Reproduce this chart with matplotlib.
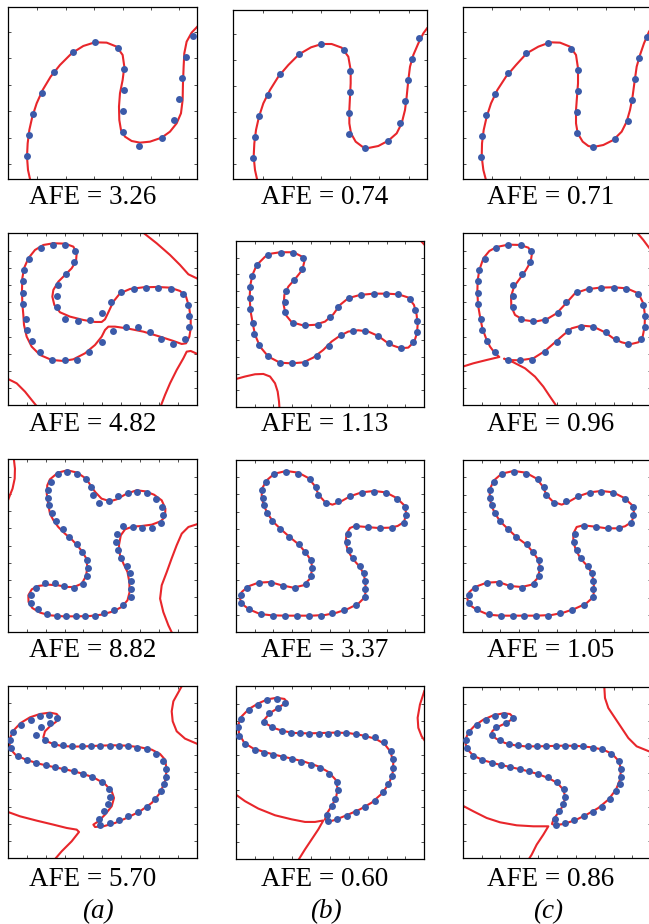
import numpy as np
import matplotlib.pyplot as plt

plt.rcParams['font.family'] = ['Liberation Serif', 'DejaVu Serif']

# ---- data points (one set per row, shared by the three fits) ----
r1_x = [58, 62, 75, 101, 139, 194, 261, 329, 349, 349, 346, 346, 394, 461, 499, 512, 522, 533, 556]
r1_y = [69, 132, 195, 258, 322, 382, 411, 394, 331, 268, 204, 141, 100, 122, 176, 240, 303, 366, 429]

r2_x = [98, 135, 172, 202, 199, 175, 150, 148, 148, 172, 209, 246, 283, 308, 340, 377, 414, 451, 488, 524,
        539, 544, 544, 532, 495, 459, 427, 389, 353, 315, 281, 244, 207, 170, 133, 96, 71, 56, 53, 44,
        44, 44, 48, 64]
r2_y = [471, 480, 480, 462, 429, 395, 361, 327, 294, 260, 254, 255, 278, 309, 339, 348, 352, 352, 350, 334,
        300, 267, 234, 200, 184, 198, 221, 235, 235, 222, 190, 159, 137, 136, 137, 159, 193, 227, 260, 304,
        338, 372, 406, 440]

r3_x = [116, 152, 188, 223, 241, 248, 272, 308, 343, 379, 414, 450, 485, 508, 510, 504, 468, 433, 397, 361,
        336, 333, 340, 353, 374, 386, 389, 389, 389, 361, 326, 290, 255, 219, 183, 148, 113, 77, 41, 16,
        16, 34, 70, 106, 141, 177, 211, 226, 230, 226, 208, 190, 159, 134, 110, 95, 85, 81, 80, 91]
r3_y = [474, 481, 475, 458, 435, 410, 388, 392, 407, 418, 421, 417, 399, 376, 352, 328, 312, 313, 316, 317,
        295, 270, 246, 222, 199, 176, 152, 129, 105, 82, 66, 56, 49, 49, 49, 49, 49, 53, 68, 87,
        110, 131, 146, 148, 137, 133, 145, 168, 193, 215, 239, 263, 286, 310, 333, 356, 380, 403, 427, 451]

r4_x = [148, 123, 95, 68, 40, 16, 7, 10, 29, 57, 85, 113, 141, 169, 197, 225, 253, 281, 303, 306,
        299, 288, 274, 277, 305, 333, 361, 389, 417, 441, 458, 469, 473, 473, 466, 444, 417, 388, 360, 332,
        305, 277, 249, 221, 193, 165, 138, 110, 85, 99, 127]
r4_y = [421, 431, 427, 415, 401, 378, 355, 332, 308, 294, 285, 279, 273, 268, 262, 253, 244, 229, 208, 185,
        162, 141, 117, 101, 106, 115, 127, 138, 155, 179, 201, 223, 245, 269, 291, 314, 327, 332, 336, 338,
        338, 337, 336, 336, 338, 339, 344, 354, 370, 393, 407]

# ---- zero sets of the fitted polynomials, one list of branches per panel ----
r1a = [[(66, 0), (60, 27), (57, 67), (59, 107), (64, 147), (73, 187), (86, 227), (104, 267), (128, 307),
        (156, 342), (191, 377), (226, 399), (261, 410), (296, 409), (326, 397), (344, 372), (349, 337),
        (344, 297), (336, 257), (333, 217), (334, 177), (339, 147), (351, 127), (371, 114), (396, 109),
        (426, 112), (461, 124), (486, 142), (506, 167), (519, 197), (524, 237), (525, 287), (527, 337),
        (529, 377), (536, 412), (551, 439), (568, 457)]]
r1b = [[(69, 7), (63, 34), (59, 74), (61, 114), (66, 154), (75, 194), (88, 234), (108, 274), (133, 314),
        (163, 349), (195, 381), (231, 402), (263, 412), (293, 412), (323, 401), (343, 374), (350, 334),
        (350, 294), (348, 254), (346, 214), (346, 174), (351, 144), (365, 119), (385, 104), (403, 100),
        (433, 106), (463, 122), (488, 144), (503, 174), (513, 214), (518, 254), (523, 304), (528, 344),
        (538, 379), (553, 414), (568, 444), (579, 459)]]
r1c = [[(73, 3), (66, 30), (61, 70), (62, 110), (67, 150), (76, 190), (89, 230), (108, 270), (134, 310),
        (164, 345), (196, 380), (231, 400), (266, 413), (296, 412), (326, 400), (344, 375), (350, 335),
        (350, 290), (347, 250), (344, 210), (344, 170), (349, 140), (364, 115), (381, 102), (396, 99),
        (426, 105), (456, 120), (481, 145), (496, 175), (506, 210), (513, 245), (519, 290), (526, 340),
        (536, 375), (548, 410), (563, 445), (580, 470)]]

r2a = [[(136, 486), (171, 485), (196, 476), (206, 456), (204, 433), (191, 411), (171, 391), (151, 371),
        (136, 346), (133, 326), (139, 301), (156, 279), (186, 266), (226, 256), (261, 250), (281, 250),
        (291, 258), (301, 279), (316, 311), (336, 336), (366, 349), (406, 354), (446, 355), (486, 353),
        (516, 343), (534, 326), (543, 296), (548, 261), (548, 231), (544, 206), (534, 186), (521, 184),
        (496, 193), (456, 206), (406, 221), (356, 231), (321, 236), (301, 236), (291, 226), (281, 206),
        (261, 181), (231, 156), (196, 138), (166, 133), (131, 136), (96, 151), (71, 176), (56, 206),
        (48, 241), (46, 271), (43, 306), (42, 346), (43, 381), (48, 411), (61, 441), (81, 466),
        (106, 481), (136, 486)],
       [(408, 516), (446, 486), (486, 451), (516, 421), (541, 393), (566, 381)],
       [(459, 0), (471, 31), (486, 66), (506, 106), (526, 141), (536, 161), (548, 163), (566, 155)],
       [(0, 79), (26, 66), (51, 41), (71, 16), (84, 0)]]
r2b = [[(134, 481), (173, 481), (200, 467), (206, 452), (200, 426), (180, 400), (158, 374), (146, 348),
        (144, 317), (150, 286), (168, 263), (203, 253), (238, 255), (268, 265), (293, 288), (313, 317),
        (338, 338), (373, 348), (413, 352), (453, 352), (488, 350), (518, 340), (535, 317), (543, 286),
        (546, 255), (544, 229), (536, 203), (518, 184), (496, 182), (473, 190), (453, 201), (428, 220),
        (398, 234), (368, 238), (338, 234), (313, 221), (288, 203), (263, 177), (233, 153), (203, 138),
        (168, 135), (133, 137), (98, 156), (73, 187), (58, 224), (51, 260), (44, 301), (42, 343),
        (44, 379), (50, 410), (63, 441), (88, 467), (108, 477), (134, 481)],
       [(0, 86), (28, 94), (58, 101), (83, 102), (103, 94), (118, 73), (126, 47), (130, 16), (131, 0)],
       [(556, 516), (566, 505)]]
r2c = [[(-2, 116), (30, 126), (70, 136), (108, 145), (95, 156), (80, 176), (68, 201), (57, 231), (50, 266),
        (44, 301), (42, 341), (43, 376), (48, 406), (60, 441), (78, 463), (100, 475), (135, 482),
        (170, 481), (195, 473), (206, 456), (202, 431), (188, 406), (170, 381), (152, 356), (143, 326),
        (144, 296), (155, 271), (180, 256), (215, 251), (250, 258), (280, 276), (308, 306), (335, 336),
        (370, 348), (410, 353), (450, 354), (490, 351), (525, 336), (540, 306), (545, 271), (544, 236),
        (538, 206), (525, 189), (500, 183), (475, 189), (450, 201), (425, 219), (390, 236), (355, 239),
        (325, 231), (300, 211), (275, 189), (245, 163), (210, 141), (170, 135), (130, 136), (122, 140),
        (150, 129), (185, 111), (215, 86), (240, 56), (260, 26), (278, 0)],
       [(523, 516), (540, 496), (557, 473), (575, 451)]]

r3a = [[(117, 478), (152, 485), (189, 478), (222, 460), (239, 440), (256, 420), (280, 400), (312, 392),
        (337, 398), (374, 415), (411, 425), (443, 422), (476, 412), (505, 395), (519, 370), (517, 345),
        (501, 332), (468, 322), (430, 318), (396, 316), (368, 308), (352, 290), (345, 260), (349, 230),
        (362, 205), (377, 180), (384, 150), (385, 120), (377, 95), (355, 75), (324, 62), (280, 52),
        (237, 48), (187, 47), (137, 47), (87, 50), (50, 58), (21, 72), (7, 90), (6, 110), (19, 128),
        (43, 138), (81, 142), (118, 140), (150, 135), (177, 135), (206, 145), (222, 168), (227, 195),
        (222, 222), (206, 243), (189, 260), (168, 278), (143, 295), (118, 315), (100, 335), (87, 355),
        (81, 380), (75, 415), (77, 440), (87, 458), (117, 478)],
       [(-48, 518), (-44, 490), (-45, 460), (-53, 430), (-63, 410), (-70, 395)],
       [(636, 323), (605, 315), (580, 295), (561, 260), (542, 220), (524, 180), (505, 140), (499, 100),
        (511, 60), (530, 20), (542, 0)]]
r3b = [[(152, 483), (188, 478), (218, 462), (236, 440), (250, 410), (268, 390), (290, 382), (313, 390),
        (343, 407), (378, 419), (415, 423), (450, 419), (483, 402), (506, 380), (512, 355), (505, 330),
        (486, 318), (463, 313), (428, 312), (393, 315), (358, 318), (343, 312), (333, 295), (330, 270),
        (336, 245), (351, 220), (371, 197), (384, 175), (389, 150), (390, 128), (388, 105), (368, 85),
        (338, 70), (303, 58), (268, 51), (228, 49), (188, 49), (148, 49), (108, 50), (73, 54), (40, 68),
        (18, 85), (13, 100), (18, 120), (38, 137), (68, 148), (103, 150), (138, 140), (173, 133),
        (203, 140), (223, 160), (230, 190), (226, 215), (210, 238), (190, 262), (163, 284), (136, 308),
        (113, 330), (96, 355), (83, 382), (78, 410), (80, 432), (93, 455), (116, 475), (152, 483)]]
r3c = [[(151, 483), (187, 478), (220, 460), (238, 437), (250, 410), (270, 390), (295, 382), (315, 390),
        (345, 407), (380, 419), (414, 423), (449, 419), (483, 402), (507, 380), (513, 355), (505, 330),
        (485, 317), (460, 311), (430, 311), (395, 316), (360, 320), (340, 315), (330, 295), (330, 270),
        (338, 245), (352, 220), (373, 197), (386, 175), (391, 150), (392, 128), (390, 105), (368, 85),
        (335, 70), (300, 58), (265, 51), (220, 49), (180, 49), (145, 49), (110, 49), (75, 52), (40, 67),
        (16, 83), (12, 100), (18, 120), (35, 135), (70, 148), (105, 150), (140, 138), (175, 135),
        (205, 142), (223, 162), (230, 190), (226, 215), (210, 238), (190, 262), (160, 284), (135, 308),
        (112, 330), (95, 355), (83, 382), (79, 410), (81, 432), (92, 455), (115, 475), (151, 483)]]

r4a = [[(154, 423), (146, 433), (126, 437), (96, 433), (66, 423), (38, 406), (16, 383), (4, 356), (6, 329),
        (24, 309), (56, 295), (96, 283), (136, 274), (176, 266), (216, 256), (256, 243), (291, 223),
        (311, 201), (318, 181), (311, 156), (291, 131), (271, 111), (256, 101), (261, 94), (286, 96),
        (321, 106), (356, 121), (396, 141), (431, 166), (456, 196), (471, 231), (476, 266), (471, 296),
        (456, 313), (431, 326), (396, 333), (356, 338), (316, 339), (276, 338), (236, 336), (196, 335),
        (161, 337), (136, 343), (116, 351), (106, 363), (111, 381), (126, 396), (146, 411), (154, 423)],
       [(521, 516), (496, 471), (491, 441), (494, 411), (506, 381), (531, 359), (566, 344)],
       [(0, 139), (36, 126), (86, 113), (136, 101), (176, 91), (206, 86), (213, 79), (191, 51), (161, 21),
        (143, 0)]]
r4b = [[(154, 423), (146, 431), (123, 434), (96, 430), (68, 419), (40, 404), (18, 384), (8, 362), (10, 337),
        (26, 312), (53, 297), (88, 287), (128, 278), (168, 270), (208, 261), (248, 249), (278, 234),
        (300, 213), (306, 188), (301, 164), (288, 142), (273, 121), (268, 106), (278, 99), (303, 106),
        (338, 119), (373, 133), (408, 151), (438, 175), (460, 202), (471, 231), (473, 258), (465, 288),
        (446, 310), (418, 324), (378, 333), (338, 339), (298, 340), (258, 339), (218, 338), (178, 339),
        (143, 344), (113, 353), (88, 366), (86, 375), (103, 393), (128, 407), (154, 423)],
       [(566, 452), (553, 416), (546, 380), (548, 353), (558, 330), (566, 320)],
       [(0, 173), (28, 155), (68, 135), (118, 117), (168, 106), (208, 99), (238, 99), (263, 103), (248, 79),
        (228, 52), (208, 25), (190, -1)]]
r4c = [[(152, 421), (140, 433), (120, 435), (90, 429), (60, 416), (35, 399), (15, 378), (5, 353), (10, 329),
        (30, 308), (60, 294), (100, 283), (140, 274), (180, 265), (220, 254), (255, 241), (282, 226),
        (300, 206), (306, 183), (298, 156), (282, 133), (270, 116), (266, 103), (275, 99), (300, 103),
        (335, 114), (370, 131), (405, 151), (435, 176), (458, 206), (470, 236), (473, 266), (467, 291),
        (447, 313), (420, 326), (385, 333), (345, 337), (305, 338), (265, 337), (225, 336), (185, 336),
        (155, 339), (125, 346), (100, 358), (82, 371), (88, 383), (105, 395), (130, 407), (152, 421)],
       [(423, 514), (425, 481), (435, 451), (455, 421), (475, 391), (495, 361), (520, 336), (557, 321),
        (575, 316)],
       [(-2, 158), (30, 141), (70, 121), (110, 108), (160, 99), (210, 96), (255, 96), (240, 71), (220, 41),
        (205, 11), (198, 0)]]

afe = [[3.26, 0.74, 0.71],
       [4.82, 1.13, 0.96],
       [8.82, 3.37, 1.05],
       [5.70, 0.60, 0.86]]
col_labels = ['(a)', '(b)', '(c)']

dots = [(r1_x, r1_y), (r2_x, r2_y), (r3_x, r3_y), (r4_x, r4_y)]
curves = [[r1a, r1b, r1c], [r2a, r2b, r2c], [r3a, r3b, r3c], [r4a, r4b, r4c]]

# axis ranges of each panel
lims = [[((0, 568), (0, 515)), ((-3, 579), (7, 514)), ((4, 572), (3, 518))],
        [((0, 566), (0, 516)), ((0, 566), (0, 516)), ((-2, 564), (0, 516))],
        [((-70, 636), (0, 518)), ((0, 566), (0, 516)), ((-2, 564), (0, 515))],
        [((0, 566), (0, 516)), ((0, 566), (-1, 465)), ((-2, 564), (0, 514))]]

# ---- layout (pixels: left, top, right, bottom) ----
W, H = 649, 924
rects = [[(8, 7.3, 197.3, 179), (233, 10, 427, 179), (462.7, 7.3, 652, 179)],
         [(8, 233.3, 196.7, 405.3), (235.7, 241, 424.3, 406.7), (462.7, 233.3, 651.3, 405.3)],
         [(8, 459.3, 196.7, 632), (235.7, 460, 424.3, 632), (462.7, 460.3, 651.3, 632)],
         [(8, 686.3, 196.7, 858.3), (235.7, 686.3, 424.3, 859), (462.7, 687, 651.3, 858.3)]]
label_x = [93, 325, 551]
label_base = [204, 431, 657, 886]

RED = '#e8262b'
BLUE = '#3b5aa9'

fig = plt.figure(figsize=(W / 100, H / 100), dpi=100)

for i in range(4):
    for j in range(3):
        l, t, r, b = rects[i][j]
        ax = fig.add_axes([l / W, 1 - b / H, (r - l) / W, (b - t) / H])
        (x0, x1), (y0, y1) = lims[i][j]
        for branch in curves[i][j]:
            pts = np.array(branch, dtype=float)
            ax.plot(pts[:, 0], pts[:, 1], color=RED, lw=1.5, solid_joinstyle='round', zorder=2)
        ax.plot(dots[i][0], dots[i][1], 'o', color=BLUE, ms=5, mew=0, zorder=3)
        ax.set_xlim(x0, x1)
        ax.set_ylim(y0, y1)
        if i == 0:
            fx = 0.155 + 0.15 * np.arange(6)
            fy = 0.087 + 0.154 * np.arange(6)
        else:
            fx = fy = np.arange(1, 10) / 10
        ax.set_xticks(x0 + fx * (x1 - x0))
        ax.set_yticks(y0 + fy * (y1 - y0))
        ax.tick_params(direction='in', length=2.2, width=0.6, color='#333333',
                       top=True, right=True, labelbottom=False, labelleft=False)
        for s in ax.spines.values():
            s.set_linewidth(0.9)
        fig.text(label_x[j] / W, 1 - label_base[i] / H, f'AFE = {afe[i][j]:.2f}',
                 ha='center', va='baseline', fontsize=19.5)

for j, lab in enumerate(col_labels):
    fig.text([98, 326, 548][j] / W, 1 - 918 / H, lab, ha='center', va='baseline',
             fontsize=19.5, style='italic')

fig.savefig('out.png', dpi=100)
